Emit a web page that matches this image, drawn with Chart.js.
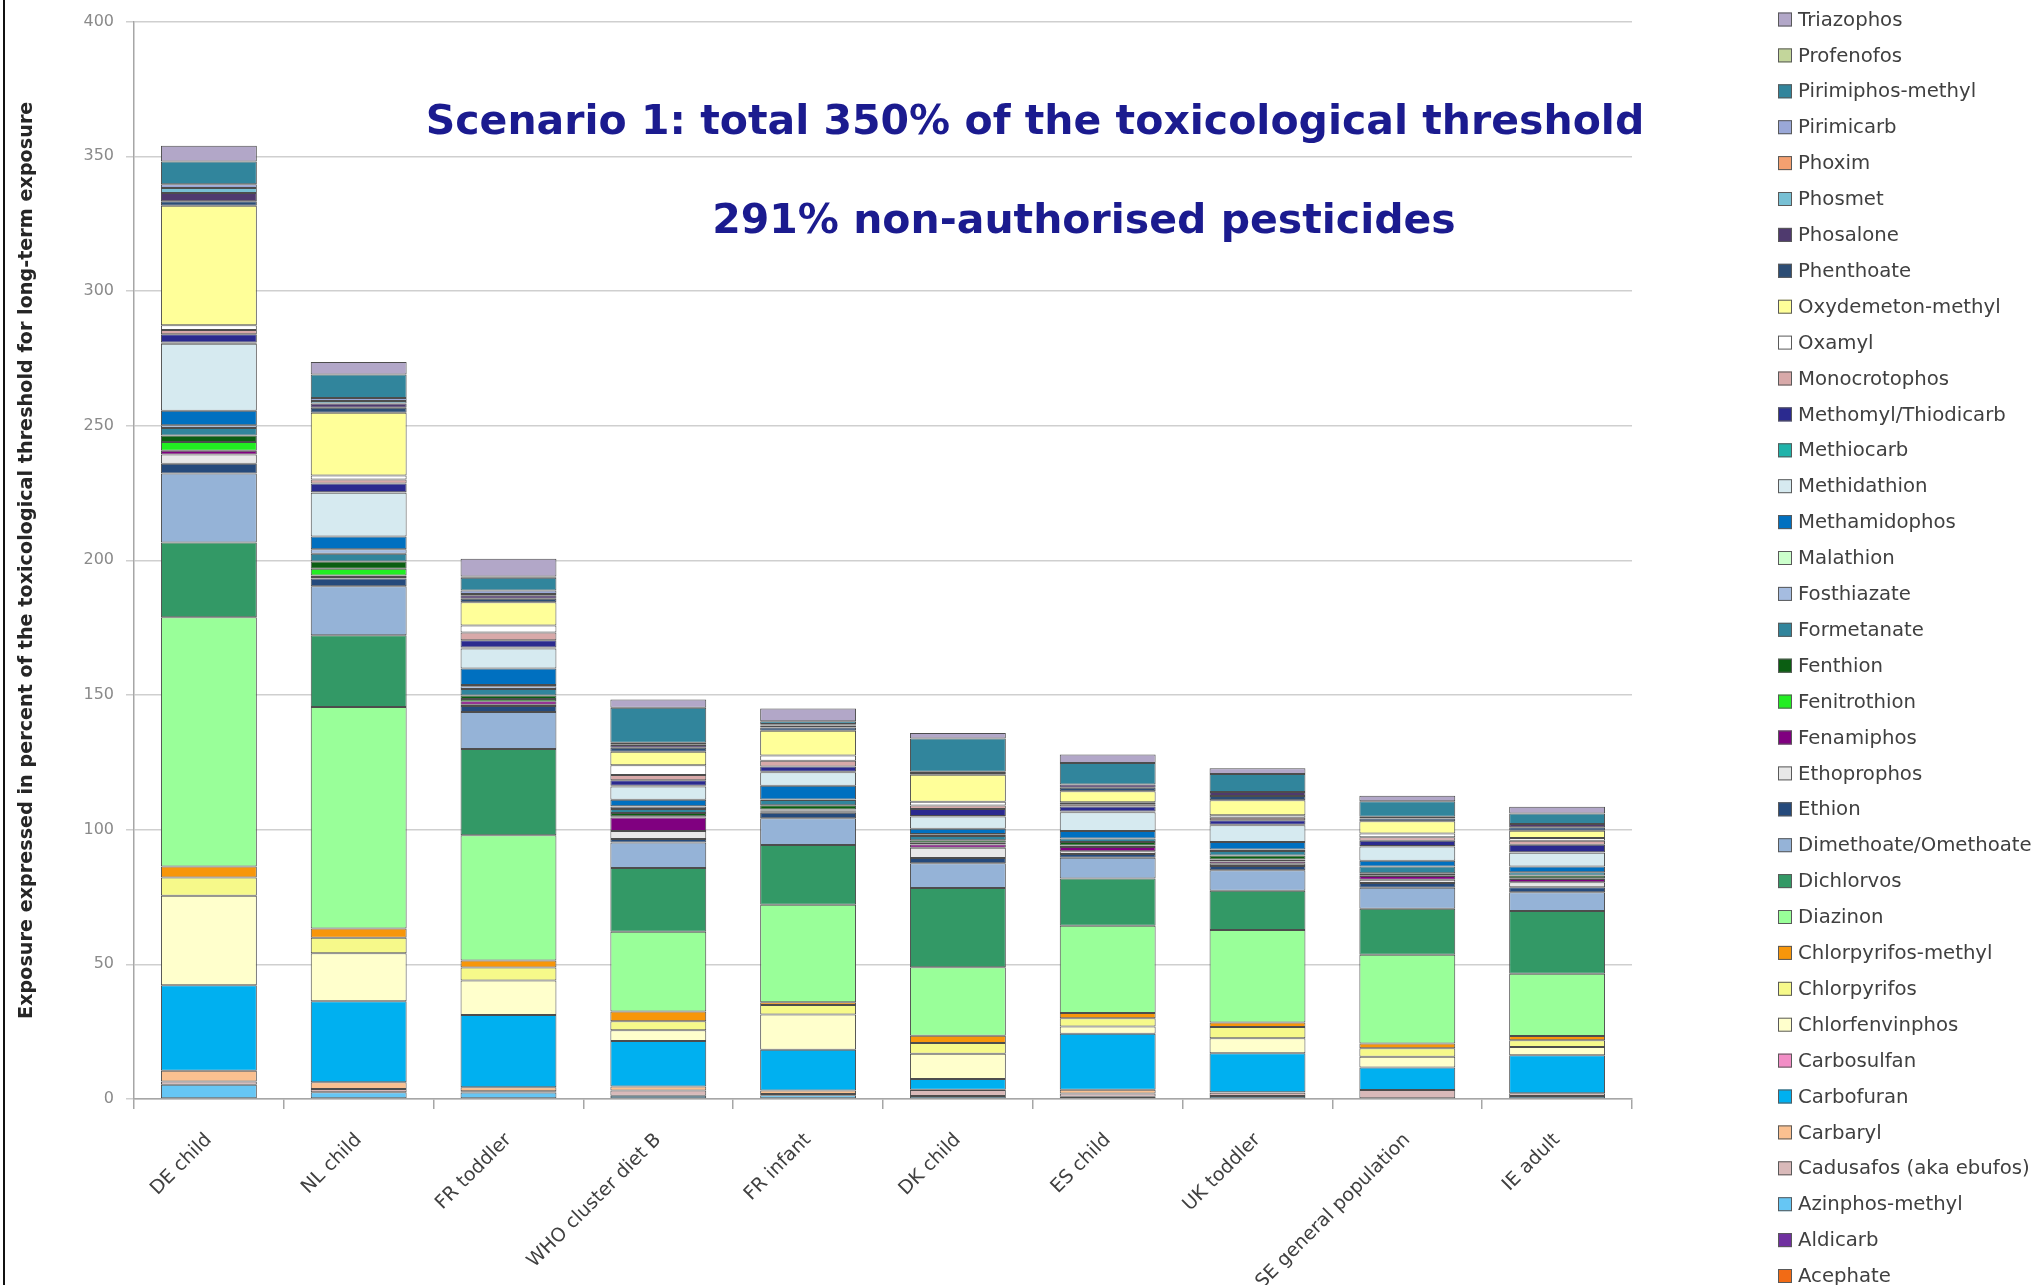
<!DOCTYPE html>
<html>
<head>
<meta charset="utf-8">
<script src="https://cdn.jsdelivr.net/npm/chart.js@4.4.1/dist/chart.umd.min.js"></script>
<style>
    html, body { margin: 0; background: #fff; }
    canvas { display: block; }
</style>
</head>
<body>
<canvas id="myChart" width="2035" height="1285"></canvas>
<script>
const categories = ['DE child', 'NL child', 'FR toddler', 'WHO cluster diet B', 'FR infant',
    'DK child', 'ES child', 'UK toddler', 'SE general population', 'IE adult'];

// % of toxicological threshold, one value per category
const acephate           = [0, 0, 0, 0, 0, 0, 0, 0, 0, 0];
const aldicarb           = [0, 0, 0, 0, 0, 0, 0, 0, 0, 0];
const azinphosMethyl     = [5.3, 2.5, 2.4, 1.2, 1.4, 1.1, 0.8, 1.1, 0.3, 1.1];
const cadusafos          = [1.2, 1.2, 0.5, 2.0, 0.5, 2.2, 1.2, 1.2, 3.0, 1.0];
const carbaryl           = [4.0, 2.5, 1.5, 1.4, 1.3, 0.1, 1.4, 0.2, 0, 0];
const carbofuran         = [31.7, 30.1, 26.8, 16.9, 15.1, 4.0, 20.8, 14.5, 8.4, 14.1];
const carbosulfan        = [0, 0, 0, 0, 0, 0, 0, 0, 0, 0];
const chlorfenvinphos    = [33.3, 17.8, 12.8, 4.0, 13.1, 9.4, 2.7, 5.6, 4.0, 3.1];
const chlorpyrifos       = [6.7, 5.8, 4.8, 3.4, 3.5, 4.0, 3.1, 4.1, 3.1, 2.5];
const chlorpyrifosMethyl = [4.1, 3.4, 2.6, 3.6, 1.0, 2.7, 1.9, 1.7, 1.8, 1.6];
const diazinon           = [92.6, 82.2, 46.5, 29.6, 36.2, 25.4, 32.4, 34.3, 33.0, 23.1];
const dichlorvos         = [27.7, 26.7, 32.0, 23.7, 22.2, 29.4, 17.6, 14.6, 17.0, 23.3];
const dimethoate         = [25.6, 18.2, 13.8, 9.4, 9.9, 9.2, 7.7, 7.6, 7.8, 7.0];
const ethion             = [3.6, 2.8, 2.2, 1.3, 2.1, 2.0, 1.4, 1.6, 1.8, 1.8];
const ethoprophos        = [3.5, 0.6, 0.5, 3.0, 0.3, 3.8, 1.0, 0.8, 1.2, 1.9];
const fenamiphos         = [1.4, 0.6, 1.3, 5.0, 0.5, 1.2, 1.6, 0.9, 1.4, 1.2];
const fenitrothion       = [3.2, 2.5, 0.8, 0.5, 0.4, 0.6, 0.5, 0.7, 0.3, 0.3];
const fenthion           = [2.4, 2.7, 1.3, 1.2, 1.6, 1.0, 1.3, 1.5, 0.7, 1.0];
const formetanate        = [2.8, 2.8, 2.4, 1.5, 1.9, 1.5, 1.3, 1.7, 2.5, 1.2];
const fosthiazate        = [1.0, 1.7, 1.0, 0.8, 0.2, 0.5, 0, 0.5, 0, 0];
const malathion          = [0, 0, 0.5, 0.2, 0, 0.3, 0, 0, 0, 0];
const methamidophos      = [5.4, 4.7, 6.1, 2.4, 5.1, 1.9, 2.8, 2.8, 2.2, 2.1];
const methidathion       = [24.9, 16.3, 7.5, 4.9, 5.0, 4.6, 7.0, 6.2, 5.2, 5.1];
const methiocarb         = [0.5, 0.2, 0.3, 0.3, 0.2, 0.2, 0.2, 0.2, 0.2, 0.2];
const methomyl           = [3.0, 3.2, 2.7, 2.0, 1.9, 2.6, 1.9, 1.7, 2.0, 2.8];
const monocrotophos      = [1.6, 1.5, 2.9, 2.0, 2.2, 1.3, 0.8, 0.9, 1.3, 1.5];
const oxamyl             = [1.8, 1.5, 2.6, 3.6, 1.9, 1.4, 0.8, 0.9, 1.4, 1.0];
const oxydemetonMethyl   = [44.3, 23.3, 8.6, 5.0, 9.2, 10.0, 4.1, 5.6, 4.5, 2.7];
const phenthoate         = [1.7, 1.8, 1.3, 1.5, 1.2, 0.6, 1.3, 1.6, 1.0, 1.3];
const phosalone          = [3.1, 1.6, 1.3, 1.0, 0.8, 0.5, 1.2, 1.5, 0.7, 1.2];
const phosmet            = [1.8, 0.9, 0.5, 0.3, 0.2, 0, 0, 0, 0, 0];
const phoxim             = [0, 0, 0, 0, 0, 0, 0, 0, 0, 0];
const pirimicarb         = [1.4, 1.2, 1.3, 0.6, 0.3, 0, 0, 0, 0, 0];
const pirimiphosMethyl   = [8.5, 8.7, 4.7, 13.0, 1.0, 12.3, 7.9, 6.7, 5.7, 3.9];
const profenofos         = [0, 0, 0.5, 0, 0, 0, 0, 0, 0, 0];
const triazophos         = [5.8, 4.6, 6.6, 3.0, 4.8, 2.1, 3.2, 2.1, 2.1, 2.5];

// bottom of the stack first
const seriesNames = ['Acephate', 'Aldicarb', 'Azinphos-methyl', 'Cadusafos (aka ebufos)', 'Carbaryl',
    'Carbofuran', 'Carbosulfan', 'Chlorfenvinphos', 'Chlorpyrifos', 'Chlorpyrifos-methyl', 'Diazinon',
    'Dichlorvos', 'Dimethoate/Omethoate', 'Ethion', 'Ethoprophos', 'Fenamiphos', 'Fenitrothion', 'Fenthion',
    'Formetanate', 'Fosthiazate', 'Malathion', 'Methamidophos', 'Methidathion', 'Methiocarb',
    'Methomyl/Thiodicarb', 'Monocrotophos', 'Oxamyl', 'Oxydemeton-methyl', 'Phenthoate', 'Phosalone',
    'Phosmet', 'Phoxim', 'Pirimicarb', 'Pirimiphos-methyl', 'Profenofos', 'Triazophos'];

const seriesValues = [acephate, aldicarb, azinphosMethyl, cadusafos, carbaryl, carbofuran, carbosulfan,
    chlorfenvinphos, chlorpyrifos, chlorpyrifosMethyl, diazinon, dichlorvos, dimethoate, ethion, ethoprophos,
    fenamiphos, fenitrothion, fenthion, formetanate, fosthiazate, malathion, methamidophos, methidathion,
    methiocarb, methomyl, monocrotophos, oxamyl, oxydemetonMethyl, phenthoate, phosalone, phosmet, phoxim,
    pirimicarb, pirimiphosMethyl, profenofos, triazophos];

const seriesColors = ['#F26B15', '#7030A0', '#66C6F4', '#D9B9B9', '#FAC090', '#00B0F0', '#F28DC6', '#FFFFCC',
    '#F6F98A', '#F7960A', '#99FF99', '#339966', '#95B3D7', '#254A7C', '#E8E8E8', '#800080', '#22EE22',
    '#0B5E12', '#31859C', '#A5BCE0', '#CCFFCC', '#0070C0', '#D6EAF0', '#1FB3AA', '#2B2A8F', '#D8A9A9',
    '#FFFFFF', '#FFFF99', '#2C4D75', '#4F3A6E', '#78C0D4', '#F4A070', '#9AA8D8', '#31859C', '#C3D69B',
    '#B2A7C8'];

const titleLine1 = 'Scenario 1: total 350% of the toxicological threshold';
const titleLine2 = '291% non-authorised pesticides';
const yTitle = 'Exposure expressed in percent of the toxicological threshold for long-term exposure';

function fitSize(text, font, target) {
    const c = document.createElement('canvas').getContext('2d');
    c.font = font.replace('%s', '100px');
    return 100 * target / c.measureText(text).width;
}

const legendSize = fitSize('Dimethoate/Omethoate', '%s "DejaVu Sans"', 234);
const yTitleSize = fitSize(yTitle, 'bold %s "DejaVu Sans"', 918);

const decorPlugin = {
    id: 'decor',
    afterDraw(chart) {
        const ctx = chart.ctx;
        ctx.save();

        // frame line at the left edge
        ctx.strokeStyle = '#111';
        ctx.lineWidth = 2;
        ctx.beginPath();
        ctx.moveTo(4, 0);
        ctx.lineTo(4, chart.height);
        ctx.stroke();

        // headline
        ctx.fillStyle = '#1B1B8F';
        ctx.font = 'bold 41px "DejaVu Sans"';
        ctx.textAlign = 'center';
        ctx.textBaseline = 'middle';
        ctx.fillText(titleLine1, 1035, 123);
        ctx.fillText(titleLine2, 1084, 222);

        // legend, top entry = last series
        ctx.font = legendSize.toFixed(1) + 'px "DejaVu Sans"';
        ctx.textAlign = 'left';
        for (let i = 0; i < seriesNames.length; i++) {
            const k = seriesNames.length - 1 - i;
            const y = 19.5 + i * 35.9;
            ctx.fillStyle = seriesColors[k];
            ctx.fillRect(1778, y - 7, 14, 14);
            ctx.strokeStyle = '#595959';
            ctx.lineWidth = 1;
            ctx.strokeRect(1778.5, y - 6.5, 13, 13);
            ctx.fillStyle = '#404040';
            ctx.fillText(seriesNames[k], 1798, y + 1);
        }
        ctx.restore();
    }
};

const datasets = seriesNames.map((name, i) => ({
    label: name,
    data: seriesValues[i].map(v => v === 0 ? null : v),
    backgroundColor: seriesColors[i],
    borderColor: '#4d4d4d',
    borderWidth: 1,
    borderSkipped: false,
    categoryPercentage: 1.0,
    barPercentage: 0.64
}));

const ctx = document.getElementById('myChart').getContext('2d');
const chart = new Chart(ctx, {
    type: 'bar',
    data: { labels: categories, datasets: datasets },
    options: {
        responsive: false,
        animation: false,
        devicePixelRatio: 1,
        layout: { padding: { top: 19, right: 403, left: 0, bottom: 0 } },
        plugins: {
            legend: { display: false },
            tooltip: { enabled: false }
        },
        scales: {
            x: {
                stacked: true,
                grid: { offset: true, drawOnChartArea: false, tickLength: 10, color: '#a6a6a6', lineWidth: 1.5 },
                border: { color: '#a6a6a6', width: 1.5 },
                ticks: {
                    autoSkip: false,
                    maxRotation: 45,
                    minRotation: 45,
                    color: '#404040',
                    padding: 20,
                    font: { family: 'DejaVu Sans', size: 19 }
                },
                afterFit: function (scale) { scale.height = 186; }
            },
            y: {
                stacked: true,
                min: 0,
                max: 400,
                ticks: { stepSize: 50, color: '#8a8a8a', padding: 12, font: { family: 'DejaVu Sans', size: 16 } },
                grid: { color: '#cfcfcf', lineWidth: 1.5, tickLength: 8 },
                border: { color: '#a6a6a6', width: 1.5 },
                title: {
                    display: true,
                    text: yTitle,
                    color: '#262626',
                    padding: { top: 15, bottom: 0 },
                    font: { family: 'DejaVu Sans', size: yTitleSize, weight: 'bold' }
                },
                afterFit: function (scale) { scale.width = 134; }
            }
        }
    },
    plugins: [decorPlugin]
});
</script>
</body>
</html>
